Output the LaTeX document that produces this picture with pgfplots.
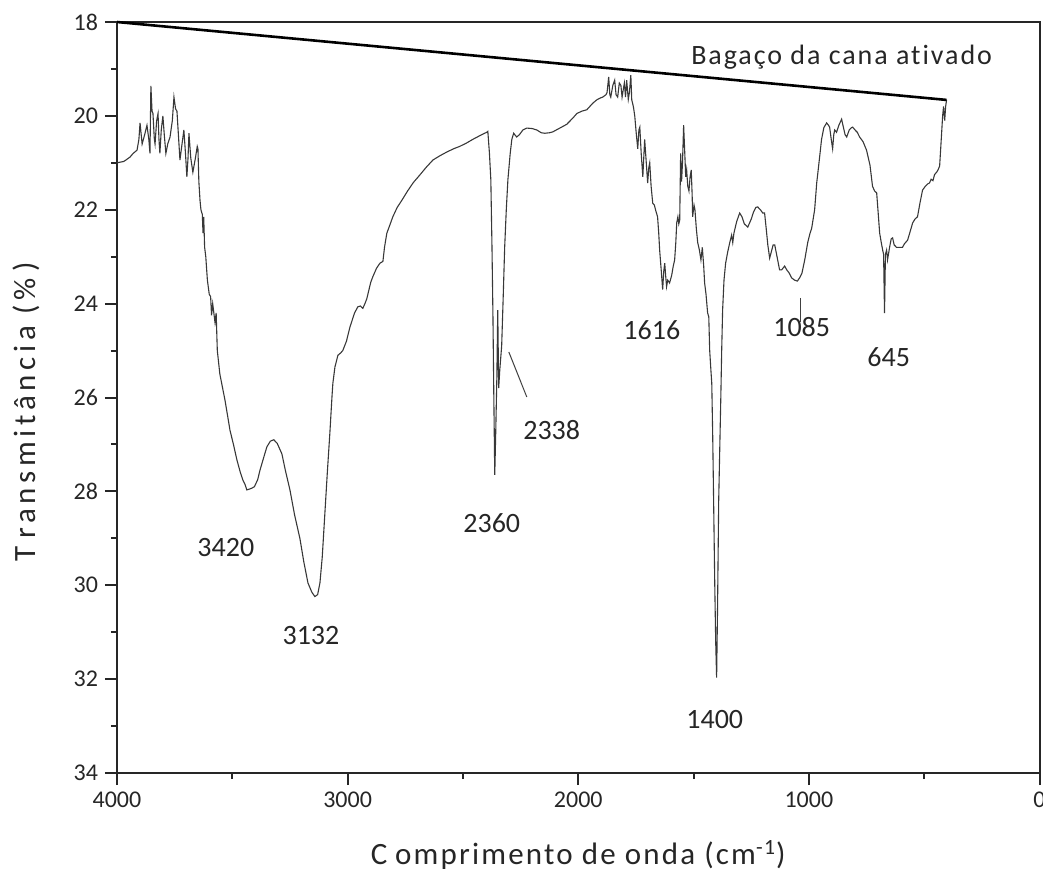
\documentclass[border=0pt]{standalone}
\usepackage{fontspec}
\setmainfont[Ligatures=NoCommon]{Carlito}
\newfontfamily\spaced[LetterSpace=7,Ligatures=NoCommon]{Carlito}
\newfontfamily\wide[LetterSpace=15,Ligatures=NoCommon]{Carlito}
\usepackage{pgfplots}
\usepackage{pgfplotstable}
\pgfplotsset{compat=1.18}
\pgfplotstableread{
x y
4000 21.0
3970 20.97
3944 20.88
3930 20.8
3913 20.73
3905 20.5
3900 20.15
3891 20.6
3880 20.4
3870 20.2
3862 20.5
3857 20.8
3853 19.36
3848 19.9
3844 19.95
3838 20.5
3835 20.6
3828 20.1
3822 19.95
3818 20.5
3814 20.8
3808 20.3
3801 20.0
3795 20.4
3788 20.8
3780 20.6
3770 20.45
3760 20.1
3753 19.6
3746 19.85
3740 19.9
3735 20.3
3727 20.94
3718 20.6
3710 20.3
3703 20.8
3697 21.3
3692 20.9
3688 20.37
3680 20.9
3671 21.2
3660 20.9
3652 20.65
3649 20.7
3645 21.4
3640 21.8
3636 22.0
3630 22.1
3627 22.5
3624 22.15
3620 22.8
3615 23.0
3608 23.5
3600 23.8
3594 23.85
3590 24.25
3585 24.0
3575 24.4
3570 24.2
3565 25.0
3554 25.5
3540 25.85
3532 26.05
3520 26.4
3510 26.7
3495 27.0
3480 27.33
3465 27.6
3454 27.76
3445 27.85
3437 27.97
3425 27.95
3415 27.93
3404 27.9
3390 27.75
3380 27.55
3367 27.33
3350 27.05
3335 26.93
3320 26.9
3305 26.98
3285 27.2
3270 27.55
3250 27.97
3230 28.5
3207 29.0
3190 29.5
3172 29.95
3155 30.15
3142 30.24
3130 30.2
3120 29.95
3110 29.4
3099 28.5
3088 27.6
3077 26.76
3068 26.0
3064 25.7
3055 25.35
3042 25.1
3030 25.05
3021 25.0
3005 24.8
2990 24.5
2970 24.2
2956 24.07
2945 24.05
2934 24.1
2925 24.0
2917 23.9
2900 23.55
2891 23.43
2875 23.25
2860 23.14
2847 23.1
2840 22.8
2830 22.5
2815 22.3
2804 22.15
2785 21.95
2765 21.8
2740 21.6
2715 21.42
2687 21.26
2660 21.1
2630 20.94
2600 20.85
2570 20.77
2540 20.7
2514 20.65
2485 20.58
2457 20.5
2430 20.43
2410 20.38
2397 20.35
2392 20.33
2385 20.8
2379 21.36
2374 22.8
2370 24.2
2366 26.0
2362 27.65
2358 26.8
2353 25.6
2349 24.14
2345 25.8
2340 25.4
2332 24.9
2325 23.8
2319 22.8
2312 22.0
2305 21.36
2295 20.8
2288 20.5
2280 20.37
2272 20.42
2267 20.45
2255 20.4
2240 20.3
2223 20.26
2200 20.27
2180 20.3
2160 20.36
2145 20.37
2125 20.36
2110 20.34
2080 20.26
2050 20.18
2024 20.05
2006 19.95
1985 19.9
1963 19.87
1937 19.73
1920 19.66
1905 19.62
1894 19.6
1880 19.55
1875 19.5
1868 19.17
1863 19.55
1859 19.6
1850 19.35
1842 19.24
1836 19.55
1829 19.6
1822 19.3
1815 19.35
1810 19.6
1800 19.3
1795 19.6
1790 19.24
1783 19.65
1778 19.5
1772 19.13
1768 19.66
1761 19.8
1755 20.0
1748 20.4
1742 20.7
1737 20.3
1733 20.24
1727 20.8
1720 21.3
1716 20.9
1712 20.5
1705 21.0
1699 21.43
1694 21.1
1690 21.0
1684 21.5
1677 21.86
1670 21.9
1665 22.0
1656 22.15
1651 22.5
1647 22.86
1640 23.3
1634 23.7
1629 23.3
1625 23.14
1621 23.4
1617 23.64
1612 23.5
1604 23.56
1595 23.4
1588 23.2
1582 23.07
1577 22.7
1573 22.28
1568 22.15
1564 22.3
1560 22.22
1558 21.5
1556 20.8
1552 21.4
1548 21.0
1543 20.2
1538 20.8
1534 21.3
1530 21.15
1525 21.5
1520 21.6
1515 21.3
1510 21.15
1506 21.7
1504 22.15
1498 21.9
1494 22.0
1488 22.4
1482 22.7
1475 22.85
1468 23.07
1462 22.8
1456 23.2
1452 23.56
1446 23.8
1439 24.2
1434 24.28
1430 25.0
1425 25.4
1421 25.7
1417 26.8
1413 28.2
1408 30.0
1404 31.2
1400 31.97
1396 30.5
1391 28.2
1386 27.0
1382 26.05
1378 25.0
1374 24.14
1368 23.5
1361 23.14
1352 22.9
1343 22.7
1335 22.54
1330 22.7
1325 22.5
1313 22.25
1300 22.07
1290 22.15
1280 22.3
1265 22.37
1250 22.2
1240 22.05
1230 21.95
1222 21.94
1210 22.0
1200 22.07
1192 22.07
1185 22.4
1178 22.75
1170 23.03
1163 22.9
1155 22.75
1148 22.75
1140 22.95
1127 23.28
1118 23.28
1105 23.2
1096 23.28
1085 23.35
1075 23.45
1062 23.5
1050 23.52
1040 23.45
1030 23.35
1018 23.07
1005 22.7
995 22.5
988 22.4
975 22.0
966 21.43
955 20.95
945 20.5
935 20.25
923 20.15
915 20.2
910 20.24
903 20.5
897 20.7
892 20.4
888 20.3
880 20.35
870 20.2
858 20.07
850 20.25
843 20.4
836 20.45
825 20.3
815 20.25
810 20.24
800 20.3
790 20.35
780 20.45
765 20.55
750 20.73
735 21.05
724 21.5
715 21.6
706 21.64
699 22.1
693 22.5
686 22.7
680 22.86
676 22.95
672 24.2
668 22.95
663 22.86
659 23.07
650 22.8
643 22.62
637 22.6
630 22.75
620 22.8
607 22.8
594 22.8
585 22.72
572 22.65
560 22.45
550 22.28
540 22.2
529 22.15
518 21.85
507 21.58
495 21.5
485 21.45
477 21.43
470 21.35
462 21.38
455 21.25
446 21.2
440 21.15
433 21.07
426 20.5
420 20.0
416 19.8
411 20.1
407 19.8
403 19.66
}\spectrum
\pgfplotstableread{
x y
4000 18.0
403 19.66
}\baseline
\begin{document}
\begin{tikzpicture}
\begin{axis}[
  name=ax,
  scale only axis,
  width=461.25pt, height=375.5pt,
  x dir=reverse, y dir=reverse,
  xmin=0, xmax=4000, ymin=18, ymax=34,
  xtick={0,1000,2000,3000,4000},
  minor xtick={500,1500,2500,3500},
  ytick={18,20,...,34},
  minor ytick={19,21,...,33},
  tick align=outside,
  xtick pos=bottom, ytick pos=left,
  major tick length=6pt, minor tick length=3pt,
  axis line style={line width=1pt, black!85},
  every tick/.style={line width=1pt, black!85},
  tick label style={font=\fontsize{12}{14}\selectfont, text=black!85},
  /pgf/number format/assume math mode=true,
  /pgf/number format/1000 sep={},
  clip=false,
]
\addplot[line width=0.55pt, black!78] table[x=x,y=y] {\spectrum};
\addplot[line width=1.3pt, black] table[x=x,y=y] {\baseline};
\node[font=\spaced\fontsize{14}{16}\selectfont, text=black!85] at (axis cs:858,18.75) {Bagaço da cana ativado};
\node[font=\fontsize{14}{16}\selectfont, text=black!85] at (axis cs:3528,29.2) {3420};
\node[font=\fontsize{14}{16}\selectfont, text=black!85] at (axis cs:3159,31.06) {3132};
\node[font=\fontsize{14}{16}\selectfont, text=black!85] at (axis cs:2375,28.67) {2360};
\node[font=\fontsize{14}{16}\selectfont, text=black!85] at (axis cs:2115,26.7) {2338};
\node[font=\fontsize{14}{16}\selectfont, text=black!85] at (axis cs:1681,24.56) {1616};
\node[font=\fontsize{14}{16}\selectfont, text=black!85] at (axis cs:1408,32.87) {1400};
\node[font=\fontsize{14}{16}\selectfont, text=black!85] at (axis cs:1031,24.5) {1085};
\node[font=\fontsize{14}{16}\selectfont, text=black!85] at (axis cs:654,25.14) {645};
\draw[line width=0.5pt, black!75] (axis cs:2301,25.03) -- (axis cs:2223,25.99);
\draw[line width=0.5pt, black!75] (axis cs:1036,23.88) -- (axis cs:1036,24.39);
\end{axis}
\node[font=\wide\fontsize{15.5}{18}\selectfont, text=black!85, rotate=90] at ([xshift=-45.5pt,yshift=-7.25pt]ax.west) {T\hspace{0.25em}ransmitância (\%\hspace{0.2em})};
\node[font=\spaced\fontsize{15.5}{18}\selectfont, text=black!85] at ([yshift=-41pt]ax.south) {C\hspace{0.25em}omprimento de onda (cm\textsuperscript{-1})};
\pgfresetboundingbox
\useasboundingbox ([shift={(-58.5pt,-55pt)}]ax.south west) rectangle ([shift={(1.75pt,11pt)}]ax.north east);
\end{tikzpicture}
\end{document}
